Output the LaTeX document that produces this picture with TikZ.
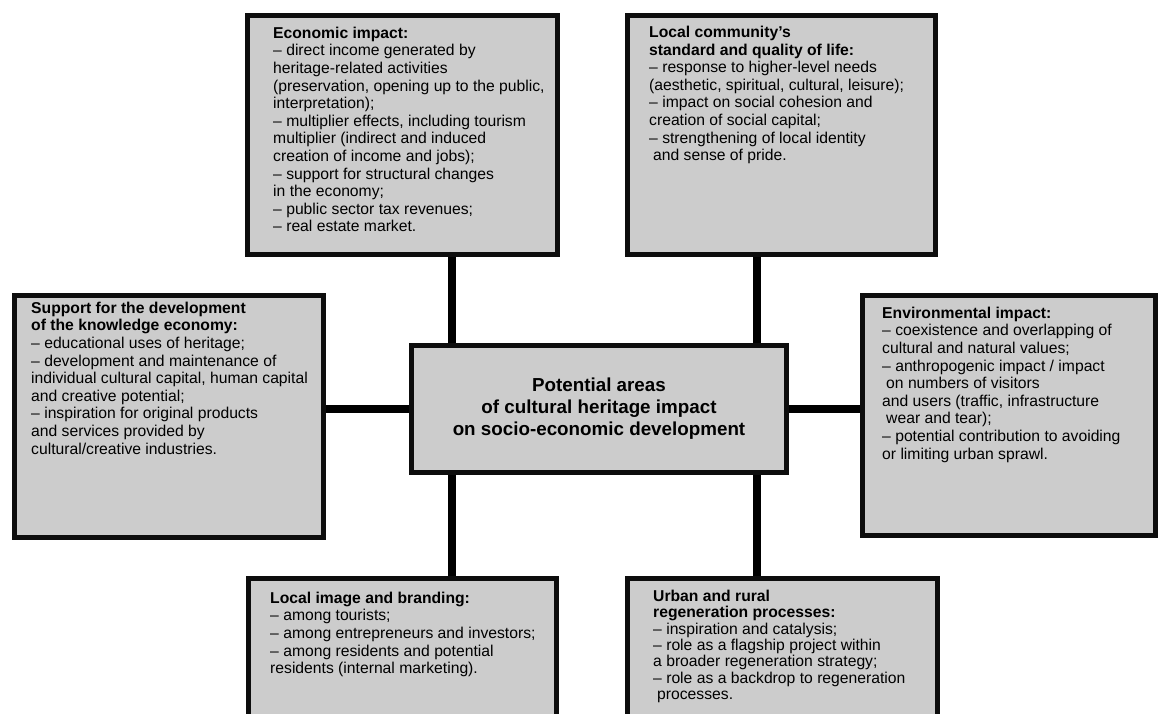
\documentclass[tikz,border=0pt]{standalone}
\usepackage{fontspec}
\setmainfont{Liberation Sans}
\begin{document}
\begin{tikzpicture}[x=1pt, y=-1pt,
	area/.style={draw=black!95, fill=gray!40, line width=5pt, anchor=north west, inner sep=0pt},
	main/.style={area, align=center, font=\fontsize{18.8}{22}\selectfont\bfseries},
	txt/.style={anchor=north west, align=left, inner sep=0pt, font=\fontsize{15.7}{17.6}\selectfont},
	link/.style={line width=8pt, black}]
	\useasboundingbox (0,0) rectangle (1160,713);
	\clip (0,0) rectangle (1160,713);
	% boxes round the centre
	\node[area, minimum width=310pt, minimum height=239pt] (E) at (245,13) {};
	\node[area, minimum width=308pt, minimum height=239pt] (C) at (625,13) {};
	\node[area, minimum width=309pt, minimum height=242pt] (K) at (12,293) {};
	\node[area, minimum width=293pt, minimum height=240pt] (V) at (860,293) {};
	\node[area, minimum width=308pt, minimum height=160pt] (I) at (246,576) {};
	\node[area, minimum width=310pt, minimum height=160pt] (R) at (625,576) {};
	\node[main, minimum width=375pt, minimum height=127pt] (P) at (409,343)
		{Potential areas\\of cultural heritage impact\\on socio-economic development};
	% connectors
	\coordinate (xl) at (452,0);
	\coordinate (xr) at (757,0);
	\draw[link] (E.south -| xl) -- (P.north -| xl);
	\draw[link] (C.south -| xr) -- (P.north -| xr);
	\draw[link] (P.south -| xl) -- (I.north -| xl);
	\draw[link] (P.south -| xr) -- (R.north -| xr);
	\draw[link] (P.west) -- (P.west -| K.east);
	\draw[link] (P.east) -- (P.east -| V.west);
	% texts
	\node[txt] (Et) at (273,26.8) {\textbf{Economic impact:}\\
		– direct income generated by\\
		heritage-related activities\\
		(preservation, opening up to the public,\\
		interpretation);\\
		– multiplier effects, including tourism\\
		multiplier (indirect and induced\\
		creation of income and jobs);\\
		– support for structural changes\\
		in the economy;\\
		– public sector tax revenues;\\
		– real estate market.};
	\node[txt] (Ct) at (649,26) {\textbf{Local community’s}\\
		\textbf{standard and quality of life:}\\
		– response to higher-level needs\\
		(aesthetic, spiritual, cultural, leisure);\\
		– impact on social cohesion and\\
		creation of social capital;\\
		– strengthening of local identity\\
		\hspace*{4pt}and sense of pride.};
	\node[txt] (Kt) at (31,301.8) {\textbf{Support for the development}\\
		\textbf{of the knowledge economy:}\\
		– educational uses of heritage;\\
		– development and maintenance of\\
		individual cultural capital, human capital\\
		and creative potential;\\
		– inspiration for original products\\
		and services provided by\\
		cultural/creative industries.};
	\node[txt] (Vt) at (882,306.8) {\textbf{Environmental impact:}\\
		– coexistence and overlapping of\\
		cultural and natural values;\\
		– anthropogenic impact / impact\\
		\hspace*{4pt}on numbers of visitors\\
		and users (traffic, infrastructure\\
		\hspace*{4pt}wear and tear);\\
		– potential contribution to avoiding\\
		or limiting urban sprawl.};
	\node[txt] (It) at (270,591.8) {\textbf{Local image and branding:}\\
		– among tourists;\\
		– among entrepreneurs and investors;\\
		– among residents and potential\\
		residents (internal marketing).};
	\node[txt, font=\fontsize{15.7}{16.4}\selectfont] (Rt) at (653,589.8) {\textbf{Urban and rural}\\
		\textbf{regeneration processes:}\\
		– inspiration and catalysis;\\
		– role as a flagship project within\\
		a broader regeneration strategy;\\
		– role as a backdrop to regeneration\\
		\hspace*{4pt}processes.};
\end{tikzpicture}
\end{document}
